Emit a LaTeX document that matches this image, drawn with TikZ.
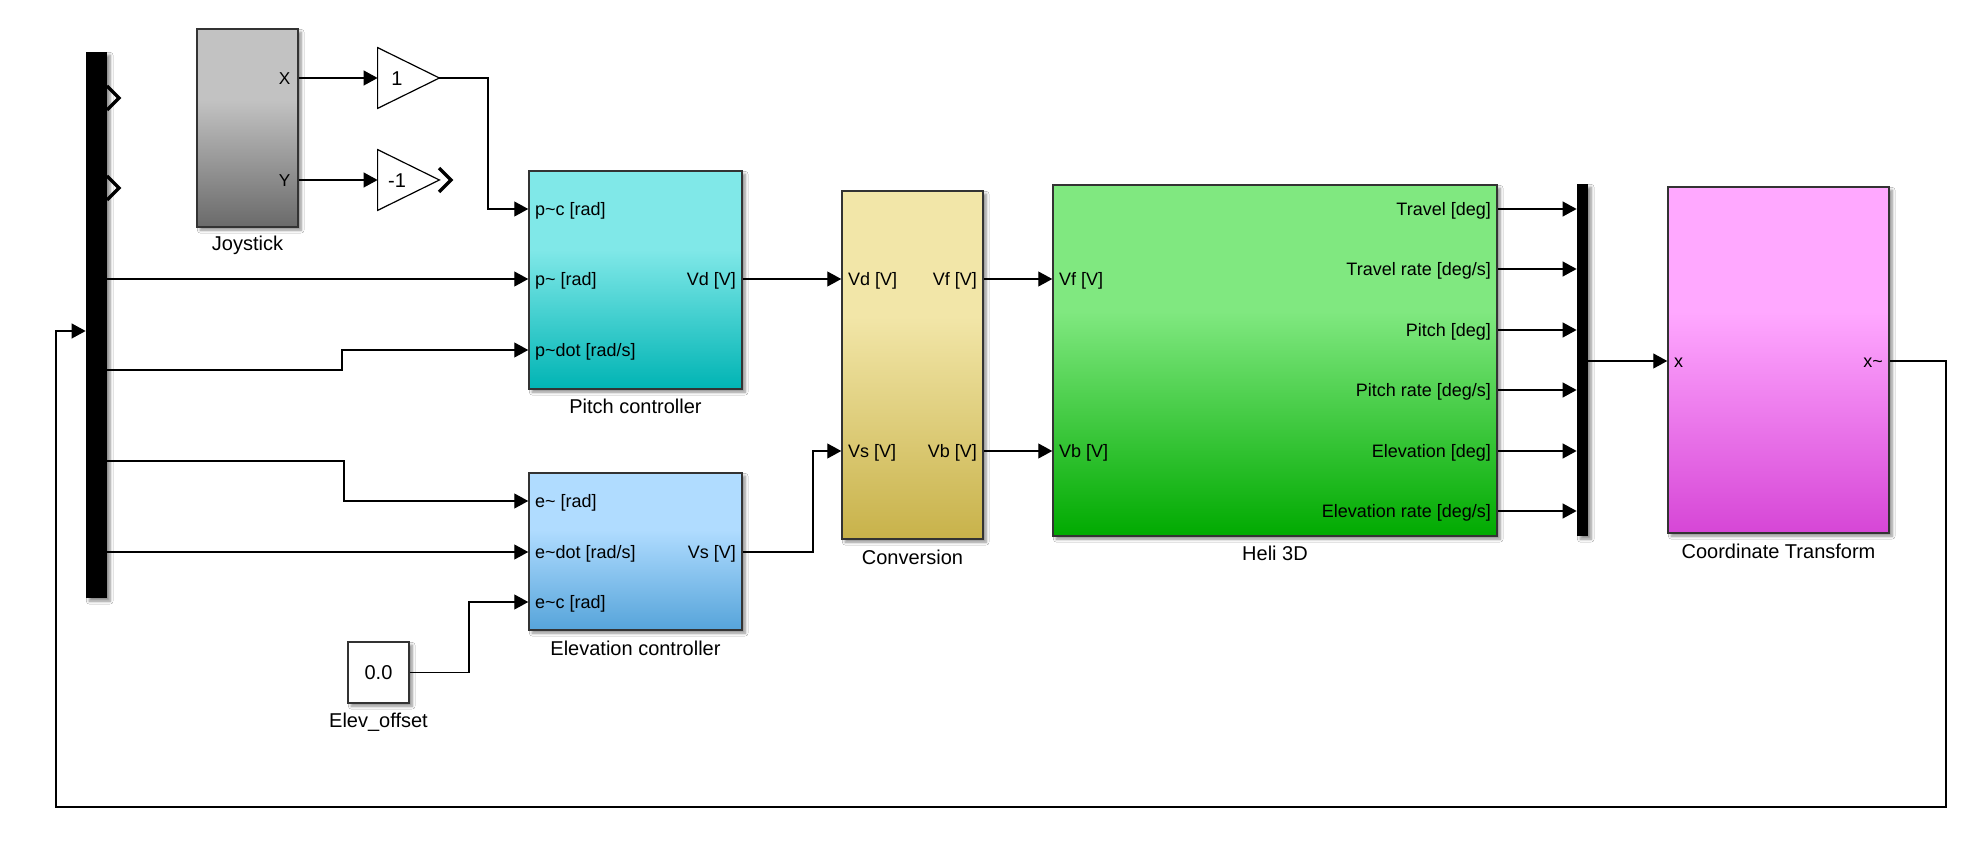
\documentclass[tikz,border=0pt]{standalone}
\usepackage{fontspec}
\setmainfont{Liberation Sans}
\usetikzlibrary{arrows.meta,shadows.blur}

% block gradient colours (top / bottom)
\definecolor{joyT}{RGB}{194,194,194}\definecolor{joyB}{RGB}{106,106,106}
\definecolor{pitT}{RGB}{128,232,232}\definecolor{pitB}{RGB}{0,180,180}
\definecolor{eleT}{RGB}{176,220,255}\definecolor{eleB}{RGB}{86,164,218}
\definecolor{conT}{RGB}{242,230,168}\definecolor{conB}{RGB}{200,178,74}
\definecolor{helT}{RGB}{128,232,128}\definecolor{helB}{RGB}{0,170,0}
\definecolor{corT}{RGB}{255,168,255}\definecolor{corB}{RGB}{214,70,214}

% flat upper part, linear fade towards the bottom edge
\pgfdeclareverticalshading{shJoy}{100bp}{color(0bp)=(joyB); color(25bp)=(joyB); color(57bp)=(joyT); color(100bp)=(joyT)}
\pgfdeclareverticalshading{shPit}{100bp}{color(0bp)=(pitB); color(25bp)=(pitB); color(57bp)=(pitT); color(100bp)=(pitT)}
\pgfdeclareverticalshading{shEle}{100bp}{color(0bp)=(eleB); color(25bp)=(eleB); color(57bp)=(eleT); color(100bp)=(eleT)}
\pgfdeclareverticalshading{shCon}{100bp}{color(0bp)=(conB); color(25bp)=(conB); color(57bp)=(conT); color(100bp)=(conT)}
\pgfdeclareverticalshading{shHel}{100bp}{color(0bp)=(helB); color(25bp)=(helB); color(57bp)=(helT); color(100bp)=(helT)}
\pgfdeclareverticalshading{shCor}{100bp}{color(0bp)=(corB); color(25bp)=(corB); color(57bp)=(corT); color(100bp)=(corT)}

\newcommand{\sigfont}{\fontsize{9}{10}\selectfont}
\newcommand{\blkfont}{\fontsize{10}{12}\selectfont}
\newcommand{\joyfont}{\fontsize{8.6}{10}\selectfont}

\tikzset{
  sh/.style={blur shadow={shadow xshift=1.6pt, shadow yshift=-1.6pt, shadow blur radius=1.4pt, shadow blur steps=6, shadow opacity=45}},
  blk/.style={draw=black!80, line width=0.75pt, inner sep=0pt, sh},
  busbar/.style={fill=black, draw=none, inner sep=0pt, sh},
  gainbox/.style={inner sep=0pt, draw=none},
  gainline/.style={draw=black, fill=white, line width=0.6pt, line join=miter},
  wire/.style={line width=0.6pt},
  sig/.style={wire, -{Triangle[length=7pt,width=7.5pt]}},
  openend/.style={line width=1.6pt, line join=miter, line cap=butt},
  portL/.style={anchor=west, xshift=3.25pt, inner sep=0pt, font=\sigfont, text height=6.4pt, text depth=0pt},
  portR/.style={anchor=east, xshift=-3.25pt, inner sep=0pt, font=\sigfont, text height=6.4pt, text depth=0pt},
  joyport/.style={anchor=east, xshift=-4pt, inner sep=0pt, font=\joyfont, text height=6.1pt, text depth=0pt},
  blabel/.style={inner sep=0pt, font=\blkfont, text height=7.2pt, text depth=0pt},
}

\begin{document}
\begin{tikzpicture}[x=0.5pt, y=-0.5pt]
\useasboundingbox[fill=white] (0,0) rectangle (1978,845);

% ---------------- blocks ----------------
\node[busbar, minimum width=10.5pt, minimum height=273pt] (bl) at (96.5,325) {};
\node[blk, shade, shading=shJoy, minimum width=50.5pt, minimum height=99pt] (joy) at (247.5,128) {};
\node[blk, shade, shading=shPit, minimum width=106.5pt, minimum height=109pt] (pitch) at (635.5,280) {};
\node[blk, shade, shading=shEle, minimum width=106.5pt, minimum height=78.5pt] (elev) at (635.5,551.5) {};
\node[blk, fill=white, minimum width=30.5pt, minimum height=30.5pt] (const) at (378.5,672.5) {};
\node[blk, shade, shading=shCon, minimum width=70.5pt, minimum height=174pt] (conv) at (912.5,365) {};
\node[blk, shade, shading=shHel, minimum width=222pt, minimum height=175.5pt] (heli) at (1275,360.5) {};
\node[busbar, minimum width=5.5pt, minimum height=176pt] (br) at (1582.5,360) {};
\node[blk, shade, shading=shCor, minimum width=110.5pt, minimum height=173pt] (coord) at (1778.5,360) {};

% gains
\node[gainbox, minimum width=30.5pt, minimum height=30pt] (g1) at (408.5,78) {};
\node[gainbox, minimum width=30.5pt, minimum height=30pt] (g2) at (408.5,180) {};
\draw[gainline] (g1.north west) -- (g1.east) -- (g1.south west) -- cycle;
\draw[gainline] (g2.north west) -- (g2.east) -- (g2.south west) -- cycle;
\node[blabel] (g1t) at (397,78) {1};
\node[blabel] (g2t) at (397,180) {-1};
\node[blabel] (constt) at (const) {0.0};

% unconnected output markers
\draw[openend] (107,86) -- (119,98) -- (107,110);
\draw[openend] (107,176) -- (119,188) -- (107,200);
\draw[openend] (439,168) -- (451,180) -- (439,192);

% ---------------- block names ----------------
\node[blabel] (joyN) at (247.5,243.5) {Joystick};
\node[blabel] (pitchN) at (635.5,406) {Pitch controller};
\node[blabel] (elevN) at (635.5,648) {Elevation controller};
\node[blabel] (constN) at (378.5,720) {Elev\_offset};
\node[blabel] (convN) at (912.5,557) {Conversion};
\node[blabel] (heliN) at (1275,553) {Heli 3D};
\node[blabel] (coordN) at (1778.5,551) {Coordinate Transform};

% ---------------- port labels ----------------
\node[joyport] (joyX) at (joy.east |- 0,78) {X};
\node[joyport] (joyY) at (joy.east |- 0,180) {Y};

\node[portL] (pi1) at (pitch.west |- 0,209) {p\textasciitilde c [rad]};
\node[portL] (pi2) at (pitch.west |- 0,279) {p\textasciitilde{} [rad]};
\node[portL] (pi3) at (pitch.west |- 0,350) {p\textasciitilde dot [rad/s]};
\node[portR] (po1) at (pitch.east |- 0,279) {Vd [V]};

\node[portL] (ei1) at (elev.west |- 0,501) {e\textasciitilde{} [rad]};
\node[portL] (ei2) at (elev.west |- 0,552) {e\textasciitilde dot [rad/s]};
\node[portL] (ei3) at (elev.west |- 0,602) {e\textasciitilde c [rad]};
\node[portR] (eo1) at (elev.east |- 0,552) {Vs [V]};

\node[portL] (ci1) at (conv.west |- 0,279) {Vd [V]};
\node[portL] (ci2) at (conv.west |- 0,451) {Vs [V]};
\node[portR] (co1) at (conv.east |- 0,279) {Vf [V]};
\node[portR] (co2) at (conv.east |- 0,451) {Vb [V]};

\node[portL] (hi1) at (heli.west |- 0,279) {Vf [V]};
\node[portL] (hi2) at (heli.west |- 0,451) {Vb [V]};
\node[portR] (ho1) at (heli.east |- 0,209) {Travel [deg]};
\node[portR] (ho2) at (heli.east |- 0,269) {Travel rate [deg/s]};
\node[portR] (ho3) at (heli.east |- 0,330) {Pitch [deg]};
\node[portR] (ho4) at (heli.east |- 0,390) {Pitch rate [deg/s]};
\node[portR] (ho5) at (heli.east |- 0,451) {Elevation [deg]};
\node[portR] (ho6) at (heli.east |- 0,511) {Elevation rate [deg/s]};

\node[portL] (xi1) at (coord.west |- 0,361) {x};
\node[portR] (xo1) at (coord.east |- 0,361) {x\textasciitilde};

% ---------------- connections ----------------
\draw[sig] (joy.east |- 0,78) -- (g1.west);
\draw[sig] (joy.east |- 0,180) -- (g2.west);
\draw[sig] (g1.east) -- (488,78) |- (pitch.west |- 0,209);

\draw[sig] (bl.east |- 0,279) -- (pitch.west |- 0,279);
\draw[sig] (bl.east |- 0,370) -- (342,370) |- (pitch.west |- 0,350);
\draw[sig] (bl.east |- 0,461) -- (344,461) |- (elev.west |- 0,501);
\draw[sig] (bl.east |- 0,552) -- (elev.west |- 0,552);
\draw[sig] (const.east) -- (469,672.5) |- (elev.west |- 0,602);

\draw[sig] (pitch.east |- 0,279) -- (conv.west |- 0,279);
\draw[sig] (elev.east |- 0,552) -- (813,552) |- (conv.west |- 0,451);

\draw[sig] (conv.east |- 0,279) -- (heli.west |- 0,279);
\draw[sig] (conv.east |- 0,451) -- (heli.west |- 0,451);

\foreach \yy in {209,269,330,390,451,511}
  \draw[sig] (heli.east |- 0,\yy) -- (br.west |- 0,\yy);

\draw[sig] (br.east |- 0,361) -- (coord.west |- 0,361);

% feedback to the demux
\draw[sig] (coord.east |- 0,361) -| (1946,807) -| (56,331) -- (bl.west |- 0,331);

\end{tikzpicture}
\end{document}
